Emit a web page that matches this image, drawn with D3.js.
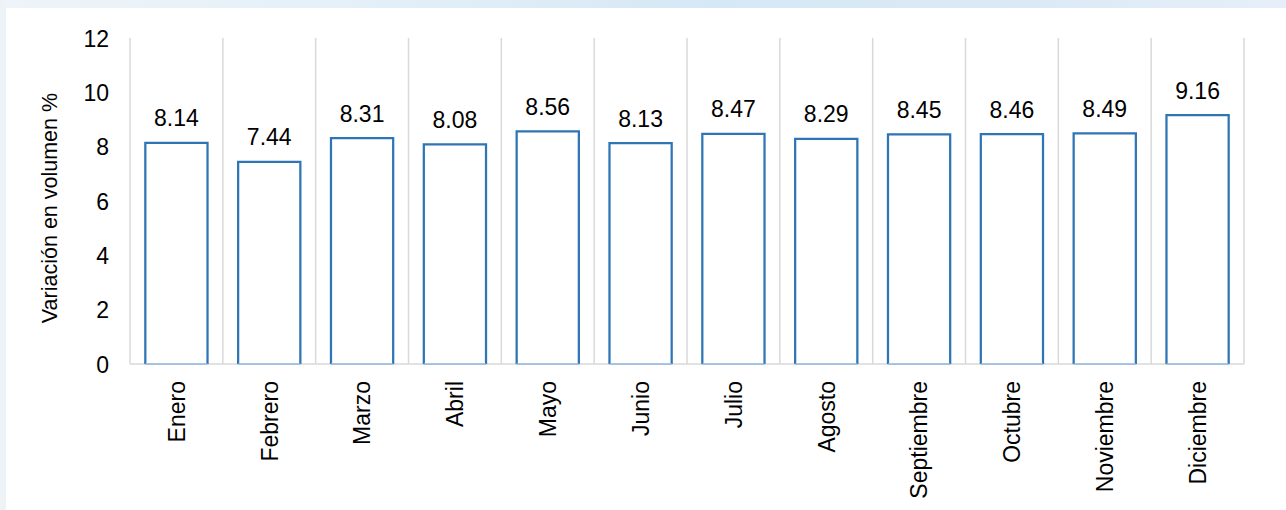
<!DOCTYPE html>
<html>
<head>
<meta charset="utf-8">
<script src="https://cdn.jsdelivr.net/npm/d3@7"></script>
<style>
  html, body { margin: 0; padding: 0; background: #ffffff; }
  svg { display: block; }
  text { font-family: "Liberation Sans", Arial, sans-serif; fill: #000; }
</style>
</head>
<body>
<svg id="chart" width="1286" height="510"></svg>
<script>
// Monthly volume variation (%)
const months = ["Enero", "Febrero", "Marzo", "Abril", "Mayo", "Junio", "Julio",
                "Agosto", "Septiembre", "Octubre", "Noviembre", "Diciembre"];
const values = [8.14, 7.44, 8.31, 8.08, 8.56, 8.13, 8.47, 8.29, 8.45, 8.46, 8.49, 9.16];
const yTicks = [0, 2, 4, 6, 8, 10, 12];
const yTitle = "Variación en volumen %";

const W = 1286, H = 510;
const plot = { left: 130, right: 1244, top: 38, bottom: 364 };

const svg = d3.select("#chart");

// Page backdrop: pale blue strip along the top and left edges
const defs = svg.append("defs");
const grad = defs.append("linearGradient").attr("id", "topBand")
  .attr("x1", "0").attr("x2", "1").attr("y1", "0").attr("y2", "0");
grad.append("stop").attr("offset", "0%").attr("stop-color", "#eef4f9");
grad.append("stop").attr("offset", "30%").attr("stop-color", "#e3eff8");
grad.append("stop").attr("offset", "55%").attr("stop-color", "#d5e8f5");
grad.append("stop").attr("offset", "80%").attr("stop-color", "#dbe9f6");
grad.append("stop").attr("offset", "100%").attr("stop-color", "#e6eff9");

svg.append("rect").attr("x", 0).attr("y", 0).attr("width", W).attr("height", H).attr("fill", "#ffffff");
svg.append("rect").attr("x", 0).attr("y", 0).attr("width", W).attr("height", 8).attr("fill", "url(#topBand)");
svg.append("rect").attr("x", 0).attr("y", 0).attr("width", 6).attr("height", H).attr("fill", "#eef3f8");

// Scales
const x = d3.scaleBand().domain(months)
  .range([plot.left, plot.right])
  .paddingInner(0.33).paddingOuter(0.165);
const xCell = d3.scaleBand().domain(months).range([plot.left, plot.right]).padding(0);
const y = d3.scaleLinear().domain([0, 12]).range([plot.bottom, plot.top]);

// Vertical gridlines at category boundaries
const bounds = months.map(m => xCell(m)).concat([plot.right]);
svg.append("g").selectAll("line").data(bounds).join("line")
  .attr("x1", d => d).attr("x2", d => d)
  .attr("y1", y(12)).attr("y2", y(0))
  .attr("stroke", "#d9d9d9").attr("stroke-width", 1.5);

// Baseline
svg.append("line")
  .attr("x1", plot.left).attr("x2", plot.right)
  .attr("y1", y(0)).attr("y2", y(0))
  .attr("stroke", "#d9d9d9").attr("stroke-width", 1.5);

// Bars: outlined, white fill
const bars = svg.append("g");
bars.selectAll("rect").data(values).join("rect")
  .attr("x", (d, i) => x(months[i]))
  .attr("y", d => y(d))
  .attr("width", x.bandwidth())
  .attr("height", d => y(0) - y(d))
  .attr("fill", "#ffffff")
  .attr("stroke", "none");
bars.selectAll("path").data(values).join("path")
  .attr("d", (d, i) => {
    const x0 = x(months[i]), x1 = x0 + x.bandwidth();
    return `M${x0},${y(0)}V${y(d)}H${x1}V${y(0)}`;
  })
  .attr("fill", "none")
  .attr("stroke", "#2e75b6")
  .attr("stroke-width", 2.25);
bars.selectAll("line").data(values).join("line")
  .attr("x1", (d, i) => x(months[i]))
  .attr("x2", (d, i) => x(months[i]) + x.bandwidth())
  .attr("y1", y(0)).attr("y2", y(0))
  .attr("stroke", "#8db3dd").attr("stroke-width", 1.5);

// Value labels above bars
svg.append("g").selectAll("text").data(values).join("text")
  .attr("x", (d, i) => x(months[i]) + x.bandwidth() / 2)
  .attr("y", d => y(d) - 16.5)
  .attr("text-anchor", "middle")
  .style("font-size", "23px")
  .text(d => d.toFixed(2));

// Y axis labels (no axis line / tick marks)
const yAxis = d3.axisLeft(y).tickValues(yTicks).tickSize(0).tickPadding(0);
const gy = svg.append("g").attr("transform", `translate(${plot.left - 21},0)`).call(yAxis);
gy.select(".domain").remove();
gy.selectAll("text")
  .attr("dy", "0.36em")
  .style("font-size", "23px")
  .style("font-family", "'Liberation Sans', Arial, sans-serif")
  .attr("fill", "#000");

// X axis category labels, rotated
const xAxis = d3.axisBottom(x).tickSize(0).tickPadding(0);
const gx = svg.append("g").attr("transform", `translate(0,${plot.bottom})`).call(xAxis);
gx.select(".domain").remove();
gx.selectAll("text")
  .attr("transform", "rotate(-90)")
  .attr("x", -17)
  .attr("y", 0)
  .attr("dy", "0.36em")
  .attr("text-anchor", "end")
  .style("font-size", "23px")
  .style("font-family", "'Liberation Sans', Arial, sans-serif")
  .attr("fill", "#000");

// Y axis title
svg.append("text")
  .attr("transform", `translate(57,${(plot.top + plot.bottom) / 2 + 7}) rotate(-90)`)
  .attr("text-anchor", "middle")
  .style("font-size", "21.5px")
  .text(yTitle);
</script>
</body>
</html>
